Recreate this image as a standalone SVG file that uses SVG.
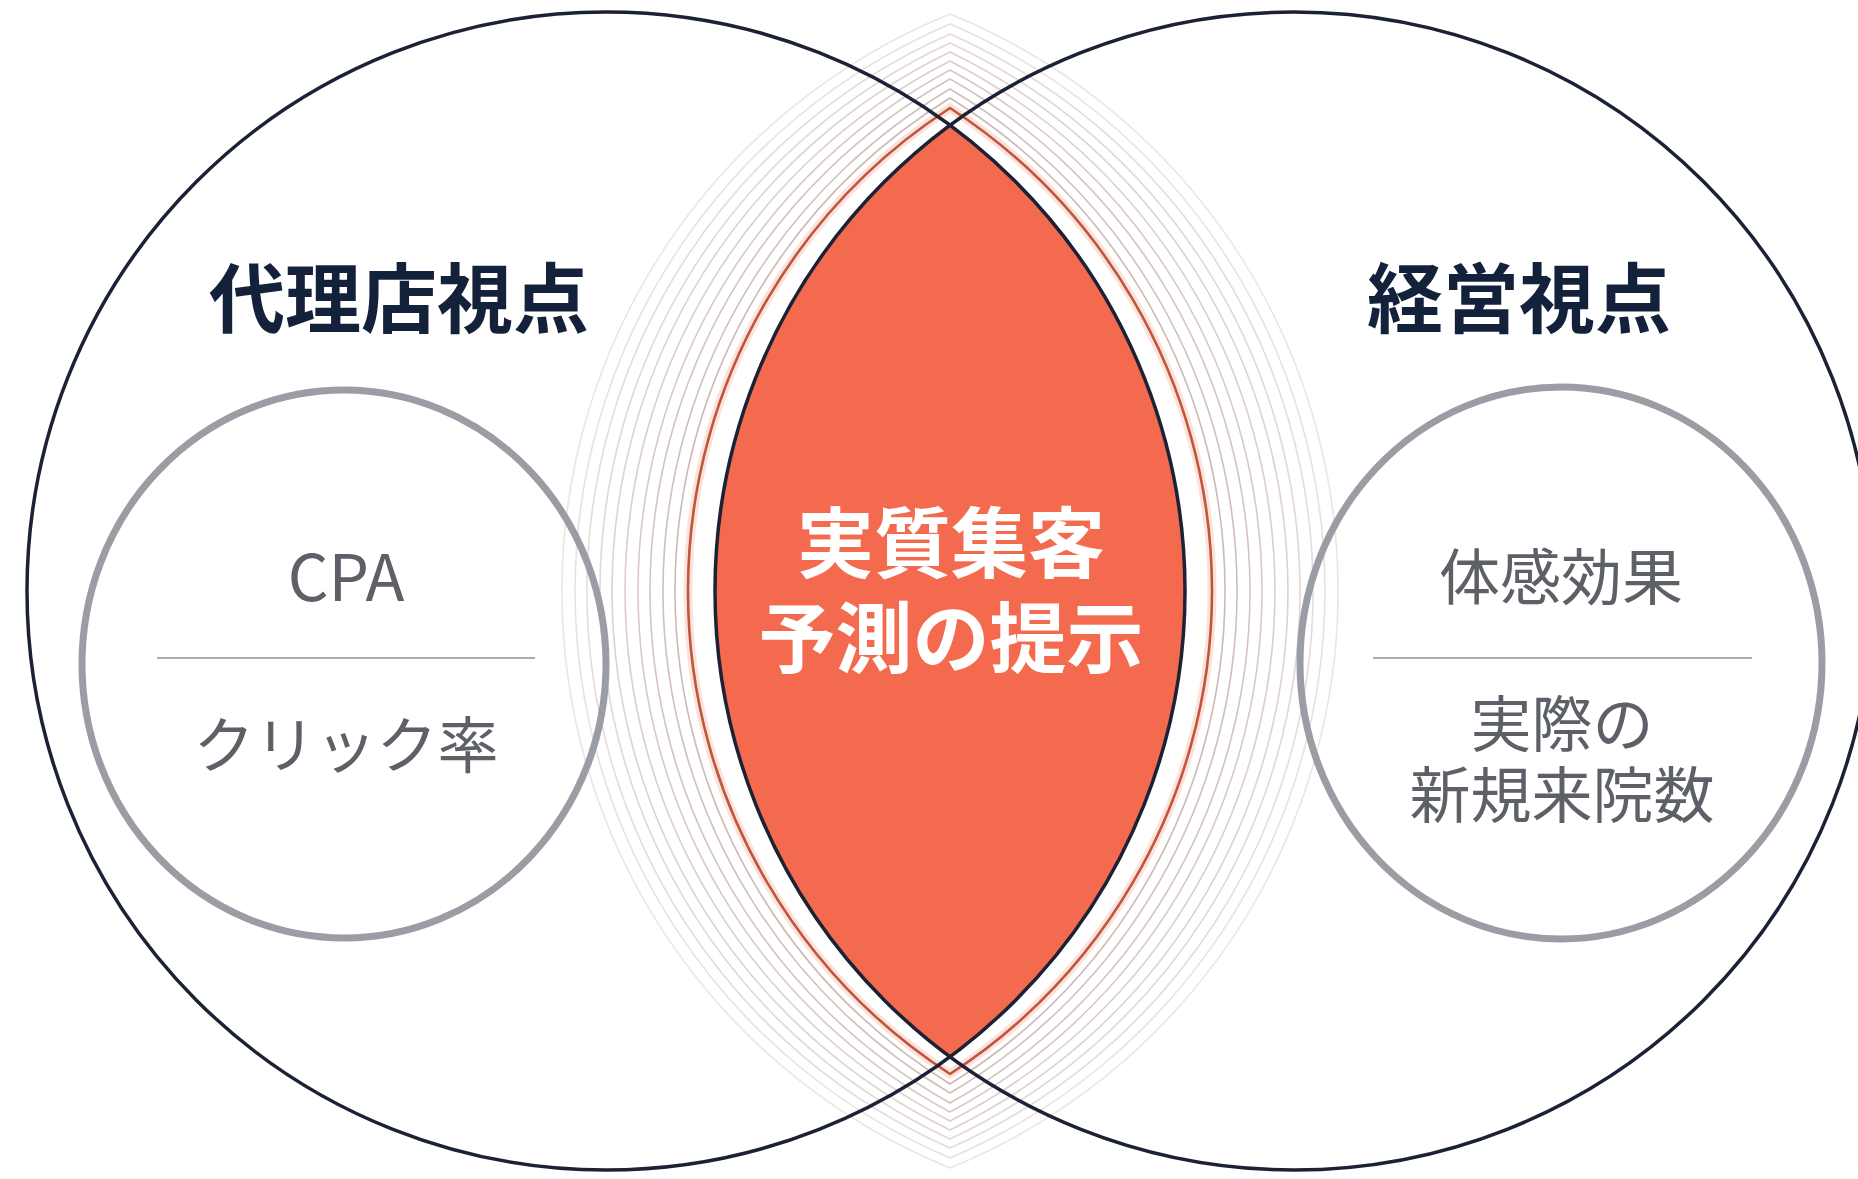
<svg xmlns="http://www.w3.org/2000/svg" width="1858" height="1179" viewBox="0 0 1858 1179">
<style>
.big{fill:none;stroke:#1b2236;stroke-width:3.5}
.inner{fill:none;stroke:#9a9da3;stroke-width:7}
.div{stroke:#8f9297;stroke-width:1.6}
.rip{fill:none;stroke:#a98a82;stroke-width:1.6}
.head{font-family:"Noto Sans CJK JP","Noto Sans",sans-serif;font-weight:700;font-size:76px;fill:#14213b;text-anchor:middle}
.sub{font-family:"Noto Sans CJK JP","Noto Sans",sans-serif;font-weight:400;font-size:61px;fill:#5d6167;text-anchor:middle}
.ctr{font-family:"Noto Sans CJK JP","Noto Sans",sans-serif;font-weight:700;font-size:77px;fill:#ffffff;text-anchor:middle}
</style>
<rect width="1858" height="1179" fill="#ffffff"/>
<g id="ripples">
<path class="rip" opacity="0.22" d="M950 14A623 623 0 0 0 950 1168A623 623 0 0 0 950 14Z"/>
<path class="rip" opacity="0.26" d="M950 24A616.2 616.2 0 0 0 950 1158A616.2 616.2 0 0 0 950 24Z"/>
<path class="rip" opacity="0.3" d="M950 34A608.8 608.8 0 0 0 950 1148A608.8 608.8 0 0 0 950 34Z"/>
<path class="rip" opacity="0.34" d="M950 43A604 604 0 0 0 950 1139A604 604 0 0 0 950 43Z"/>
<path class="rip" opacity="0.38" d="M950 52A598.8 598.8 0 0 0 950 1130A598.8 598.8 0 0 0 950 52Z"/>
<path class="rip" opacity="0.42" d="M950 61A594.7 594.7 0 0 0 950 1121A594.7 594.7 0 0 0 950 61Z"/>
<path class="rip" opacity="0.46" d="M950 70A591 591 0 0 0 950 1112A591 591 0 0 0 950 70Z"/>
<path class="rip" opacity="0.5" d="M950 79A586.9 586.9 0 0 0 950 1103A586.9 586.9 0 0 0 950 79Z"/>
<path class="rip" opacity="0.55" d="M950 89A582.5 582.5 0 0 0 950 1093A582.5 582.5 0 0 0 950 89Z"/>
<path class="rip" opacity="0.6" d="M950 98A579.4 579.4 0 0 0 950 1084A579.4 579.4 0 0 0 950 98Z"/>
<path fill="none" stroke="#f08a6e" stroke-width="9" opacity="0.25" d="M950 108A576.2 576.2 0 0 0 950 1074A576.2 576.2 0 0 0 950 108Z"/>
<path fill="none" stroke="#c0563d" stroke-width="2.6" d="M950 108A576.2 576.2 0 0 0 950 1074A576.2 576.2 0 0 0 950 108Z"/>
</g>
<g id="lens">
<path fill="#f46a4f" d="M950 125A579 579 0 0 0 950 1057A579 579 0 0 0 950 125Z"/>
<text class="ctr" x="951" y="572">実質集客<tspan x="951" dy="95">予測の提示</tspan></text>
</g>
<g id="left-circle">
<circle class="big" cx="606" cy="591" r="579"/>
<text class="head" x="399" y="327">代理店視点</text>
</g>
<g id="right-circle">
<circle class="big" cx="1294" cy="591" r="579"/>
<text class="head" x="1519" y="327">経営視点</text>
</g>
<g id="left-inner">
<ellipse class="inner" cx="344" cy="664" rx="262" ry="274"/>
<line class="div" x1="157" y1="658" x2="535" y2="658"/>
<text class="sub" x="346" y="601" style="font-size:64px">CPA</text>
<text class="sub" x="346" y="768">クリック率</text>
</g>
<g id="right-inner">
<ellipse class="inner" cx="1561" cy="663" rx="261" ry="276"/>
<line class="div" x1="1373" y1="658" x2="1752" y2="658"/>
<text class="sub" x="1561" y="600">体感効果</text>
<text class="sub" x="1562" y="747">実際の<tspan x="1562" dy="71">新規来院数</tspan></text>
</g>
</svg>
